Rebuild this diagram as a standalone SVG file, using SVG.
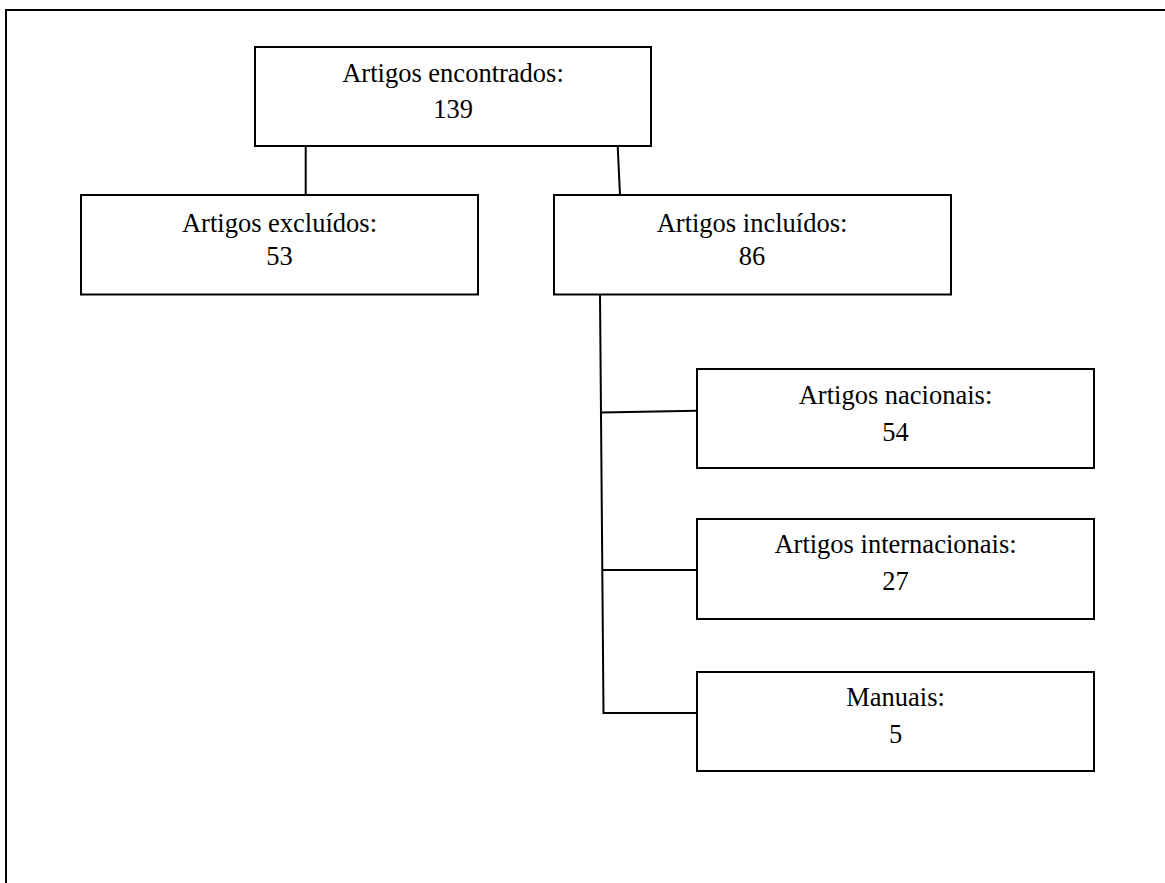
<svg xmlns="http://www.w3.org/2000/svg" width="1165" height="883" viewBox="0 0 1165 883">
<style>
.box{fill:#fff;stroke:#000;stroke-width:2}
.ln{fill:none;stroke:#000;stroke-width:2}
.t{font-family:"Liberation Serif","Times New Roman",serif;font-size:26.5px;fill:#000;text-anchor:middle}
</style>
<rect width="1165" height="883" fill="#fff"/>
<g id="frame">
<path class="ln" d="M6 883 V10 H1165"/>
</g>
<g id="connectors">
<path class="ln" d="M305.7 146 V195"/>
<path class="ln" d="M617.7 146 L620 195"/>
<path class="ln" d="M600 295 L603.5 713 H697"/>
<path class="ln" d="M601 412.5 L697 410.7"/>
<path class="ln" d="M602.5 570 H697"/>
</g>
<g id="encontrados">
<rect class="box" x="255" y="47" width="396" height="99"/>
<text class="t" x="453" y="81.7">Artigos encontrados:</text>
<text class="t" x="453" y="118">139</text>
</g>
<g id="excluidos">
<rect class="box" x="81" y="195" width="397" height="99.5"/>
<text class="t" x="279.5" y="231.7">Artigos excluídos:</text>
<text class="t" x="279.5" y="265">53</text>
</g>
<g id="incluidos">
<rect class="box" x="554" y="195" width="397" height="99.5"/>
<text class="t" x="752" y="231.7">Artigos incluídos:</text>
<text class="t" x="752" y="265">86</text>
</g>
<g id="nacionais">
<rect class="box" x="697" y="369" width="397" height="99"/>
<text class="t" x="895.5" y="404.3">Artigos nacionais:</text>
<text class="t" x="895.5" y="441">54</text>
</g>
<g id="internacionais">
<rect class="box" x="697" y="519" width="397" height="100"/>
<text class="t" x="895.5" y="553">Artigos internacionais:</text>
<text class="t" x="895.5" y="590">27</text>
</g>
<g id="manuais">
<rect class="box" x="697" y="672" width="397" height="99"/>
<text class="t" x="895.5" y="706">Manuais:</text>
<text class="t" x="895.5" y="742.7">5</text>
</g>
</svg>
